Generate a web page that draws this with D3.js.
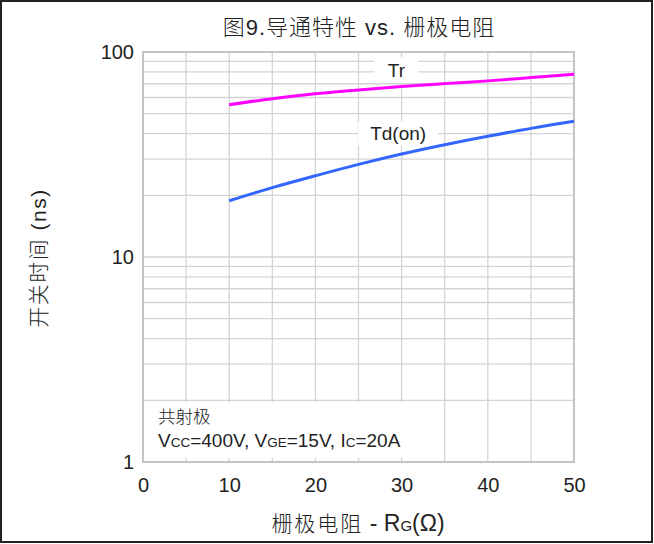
<!DOCTYPE html>
<html>
<head>
<meta charset="utf-8">
<script src="https://cdn.jsdelivr.net/npm/d3@7"></script>
<style>
  body { margin: 0; background: #fff; }
  svg { display: block; }
  text { font-family: "Liberation Sans", Arial, "Noto Sans CJK SC", sans-serif; fill: #222; }
</style>
</head>
<body>
<script>
var rg = [10, 15, 20, 25, 30, 35, 40, 45, 50];
var tr = [55.3, 59.2, 62.5, 65.3, 67.8, 70.1, 72.3, 75.0, 77.8];
var tdOn = [18.8, 21.8, 24.9, 28.3, 31.8, 35.3, 38.8, 42.4, 45.9];
var xTicks = [0, 10, 20, 30, 40, 50];
var yTicks = [1, 10, 100];

var W = 654, H = 544,
    m = {left: 143, right: 80, top: 52, bottom: 82},
    pw = W - m.left - m.right, ph = H - m.top - m.bottom;

var svg = d3.select('body').append('svg').attr('width', W).attr('height', H);

// outer frame
svg.append('rect').attr('x', 1).attr('y', 1).attr('width', W - 3).attr('height', H - 3)
    .attr('fill', '#fff').attr('stroke', '#222').attr('stroke-width', 2);

var x = d3.scaleLinear().domain([0, 50]).range([0, pw]);
var y = d3.scaleLog().domain([1, 100]).range([ph, 0]);

var g = svg.append('g').attr('transform', 'translate(' + m.left + ',' + m.top + ')');

// grid
var minor = [];
[1, 10].forEach(function (d) { for (var k = 2; k <= 9; k++) minor.push(d * k); });
minor.push(10);
g.append('g').selectAll('line.h').data(minor).enter().append('line')
    .attr('x1', 0).attr('x2', pw)
    .attr('y1', function (d) { return y(d); }).attr('y2', function (d) { return y(d); })
    .attr('stroke', '#d4d4d4').attr('stroke-width', 1.3);
g.append('g').selectAll('line.v').data(d3.range(5, 50, 5)).enter().append('line')
    .attr('y1', 0).attr('y2', ph)
    .attr('x1', function (d) { return x(d); }).attr('x2', function (d) { return x(d); })
    .attr('stroke', '#d4d4d4').attr('stroke-width', 1.3);

// axes (labels only)
var xAxis = g.append('g').attr('transform', 'translate(0,' + ph + ')')
    .call(d3.axisBottom(x).tickValues(xTicks).tickSize(0).tickPadding(16).tickFormat(d3.format('d')));
var yAxis = g.append('g')
    .call(d3.axisLeft(y).tickValues(yTicks).tickSize(0).tickPadding(9).tickFormat(d3.format('d')));
[xAxis, yAxis].forEach(function (a) {
    a.select('.domain').remove();
    a.selectAll('text').style('font-size', '20px').attr('fill', '#1a1a1a')
        .style('font-family', '"Liberation Sans", Arial, sans-serif');
});

// curve labels with white boxes
function label(txt, cx, cy, w, h) {
    g.append('rect').attr('x', cx - w / 2).attr('y', cy - h / 2).attr('width', w).attr('height', h)
        .attr('fill', '#fff');
    g.append('text').attr('x', cx).attr('y', cy).attr('dy', '0.36em')
        .attr('text-anchor', 'middle').style('font-size', '19px').text(txt);
}
label('Tr', x(29.4), y(82), 44, 24);
label('Td(on)', x(29.6), y(40), 80, 24);

// conditions box
g.append('rect').attr('x', 2).attr('y', y(1.95)).attr('width', x(32) - 2)
    .attr('height', y(1.05) - y(1.95)).attr('fill', '#fff');
g.append('text').attr('x', 15).attr('y', y(1.55)).style('font-size', '17.5px').attr('fill', '#333')
    .style('font-family', '"Noto Sans CJK SC", sans-serif').style('font-weight', 300).text('共射极');
var cond = g.append('text').attr('x', 15).attr('y', y(1.19)).style('font-size', '19px');
[['V', null], ['CC', 'sub'], ['=400V, V', null], ['GE', 'sub'], ['=15V, I', null], ['C', 'sub'], ['=20A', null]]
    .forEach(function (p) {
        var t = cond.append('tspan').text(p[0]);
        if (p[1]) t.style('font-size', '13.5px');
    });

g.append('rect').attr('width', pw).attr('height', ph)
    .attr('fill', 'none').attr('stroke', '#c4c4c4').attr('stroke-width', 2);

// curves
var line = d3.line().curve(d3.curveMonotoneX)
    .x(function (d) { return x(d[0]); }).y(function (d) { return y(d[1]); });
g.append('path').datum(d3.zip(rg, tr)).attr('d', line)
    .attr('fill', 'none').attr('stroke', '#ff00ff').attr('stroke-width', 3);
g.append('path').datum(d3.zip(rg, tdOn)).attr('d', line)
    .attr('fill', 'none').attr('stroke', '#3366ff').attr('stroke-width', 3);

// titles
svg.append('text').attr('x', 359).attr('y', 35).attr('text-anchor', 'middle')
    .style('font-size', '22px').style('letter-spacing', '1px').style('font-weight', 300)
    .attr('fill', '#333').text('图9.导通特性 vs. 栅极电阻');
var xt = svg.append('text').attr('x', 358).attr('y', 531).attr('text-anchor', 'middle')
    .attr('fill', '#333').style('font-weight', 300);
xt.append('tspan').style('font-size', '21px').style('letter-spacing', '2px').text('栅极电阻');
xt.append('tspan').style('font-size', '23px').text(' - R');
xt.append('tspan').style('font-size', '15px').text('G');
xt.append('tspan').style('font-size', '23px').text('(Ω)');
svg.append('text').attr('transform', 'translate(46,' + (m.top + ph / 2 + 1) + ') rotate(-90)')
    .attr('text-anchor', 'middle').style('font-size', '21px').style('letter-spacing', '1.5px')
    .style('font-weight', 300).attr('fill', '#333').text('开关时间 (ns)');
</script>
</body>
</html>
